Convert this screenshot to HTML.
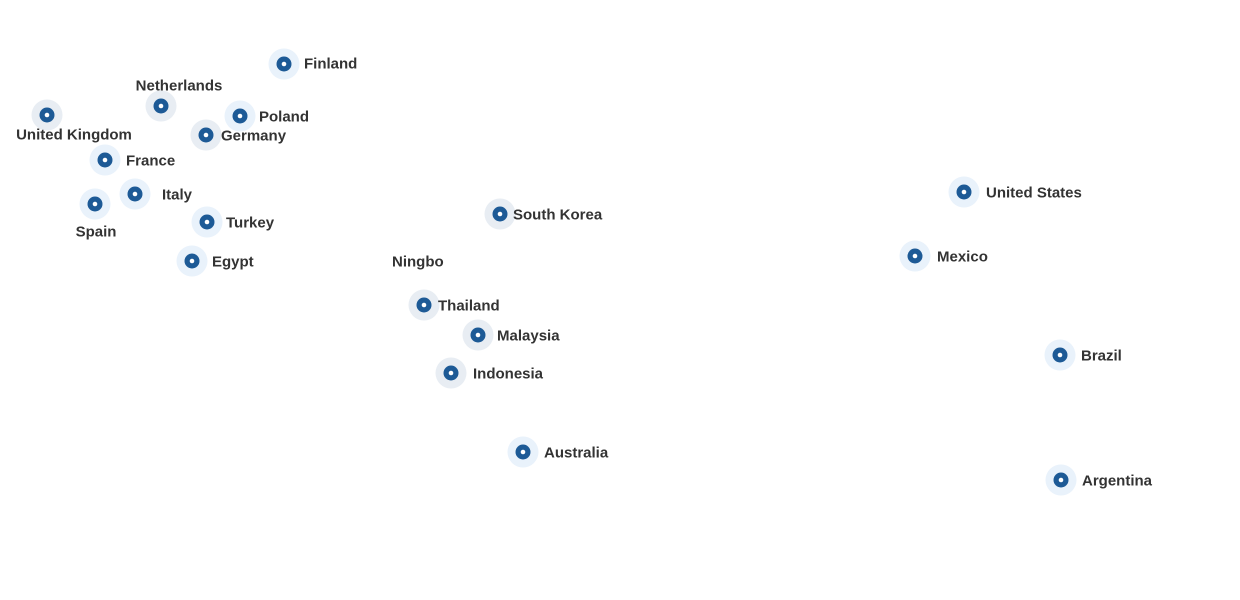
<!DOCTYPE html>
<html><head><meta charset="utf-8"><style>
html,body{margin:0;padding:0;background:#fff;width:1240px;height:600px;overflow:hidden}
text{font-family:"Liberation Sans",sans-serif;font-size:15px;font-weight:bold;fill:#333;dominant-baseline:central}
</style></head><body>
<svg width="1240" height="600" xmlns="http://www.w3.org/2000/svg">
<defs>
<g id="m"><circle r="7.5" fill="#1d5a96"/><circle r="2.3" fill="#fff"/></g>
</defs>
<g transform="translate(0,1)">
<g>
<circle cx="284" cy="63" r="15.5" fill="#e9f2fb"/>
<circle cx="161" cy="105" r="15.5" fill="#e8edf3"/>
<circle cx="47" cy="114" r="15.5" fill="#e8edf3"/>
<circle cx="240" cy="115" r="15.5" fill="#e9f2fb"/>
<circle cx="206" cy="134" r="15.5" fill="#e8edf3"/>
<circle cx="105" cy="159" r="15.5" fill="#e9f2fb"/>
<circle cx="135" cy="193" r="15.5" fill="#e9f2fb"/>
<circle cx="95" cy="203" r="15.5" fill="#e9f2fb"/>
<circle cx="207" cy="221" r="15.5" fill="#e9f2fb"/>
<circle cx="192" cy="260" r="15.5" fill="#e9f2fb"/>
<circle cx="500" cy="213" r="15.5" fill="#e8edf3"/>
<circle cx="424" cy="304" r="15.5" fill="#e8edf3"/>
<circle cx="478" cy="334" r="15.5" fill="#e8edf3"/>
<circle cx="451" cy="372" r="15.5" fill="#e8edf3"/>
<circle cx="523" cy="451" r="15.5" fill="#e9f2fb"/>
<circle cx="964" cy="191" r="15.5" fill="#e9f2fb"/>
<circle cx="915" cy="255" r="15.5" fill="#e9f2fb"/>
<circle cx="1060" cy="354" r="15.5" fill="#e9f2fb"/>
<circle cx="1061" cy="479" r="15.5" fill="#e9f2fb"/>
</g>
<use href="#m" x="284" y="63"/><use href="#m" x="161" y="105"/><use href="#m" x="47" y="114"/>
<use href="#m" x="240" y="115"/><use href="#m" x="206" y="134"/><use href="#m" x="105" y="159"/>
<use href="#m" x="135" y="193"/><use href="#m" x="95" y="203"/><use href="#m" x="207" y="221"/>
<use href="#m" x="192" y="260"/><use href="#m" x="500" y="213"/><use href="#m" x="424" y="304"/>
<use href="#m" x="478" y="334"/><use href="#m" x="451" y="372"/><use href="#m" x="523" y="451"/>
<use href="#m" x="964" y="191"/><use href="#m" x="915" y="255"/><use href="#m" x="1060" y="354"/>
<use href="#m" x="1061" y="479"/>
<text x="304" y="63">Finland</text>
<text x="179" y="85" text-anchor="middle">Netherlands</text>
<text x="74" y="134" text-anchor="middle">United Kingdom</text>
<text x="259" y="116">Poland</text>
<text x="221" y="135">Germany</text>
<text x="126" y="160">France</text>
<text x="162" y="194">Italy</text>
<text x="96" y="231" text-anchor="middle">Spain</text>
<text x="226" y="222">Turkey</text>
<text x="212" y="261">Egypt</text>
<text x="513" y="214">South Korea</text>
<text x="392" y="261">Ningbo</text>
<text x="438" y="305">Thailand</text>
<text x="497" y="335">Malaysia</text>
<text x="473" y="373">Indonesia</text>
<text x="544" y="452">Australia</text>
<text x="986" y="192">United States</text>
<text x="937" y="256">Mexico</text>
<text x="1081" y="355">Brazil</text>
<text x="1082" y="480">Argentina</text>
</g>
</svg>
</body></html>
